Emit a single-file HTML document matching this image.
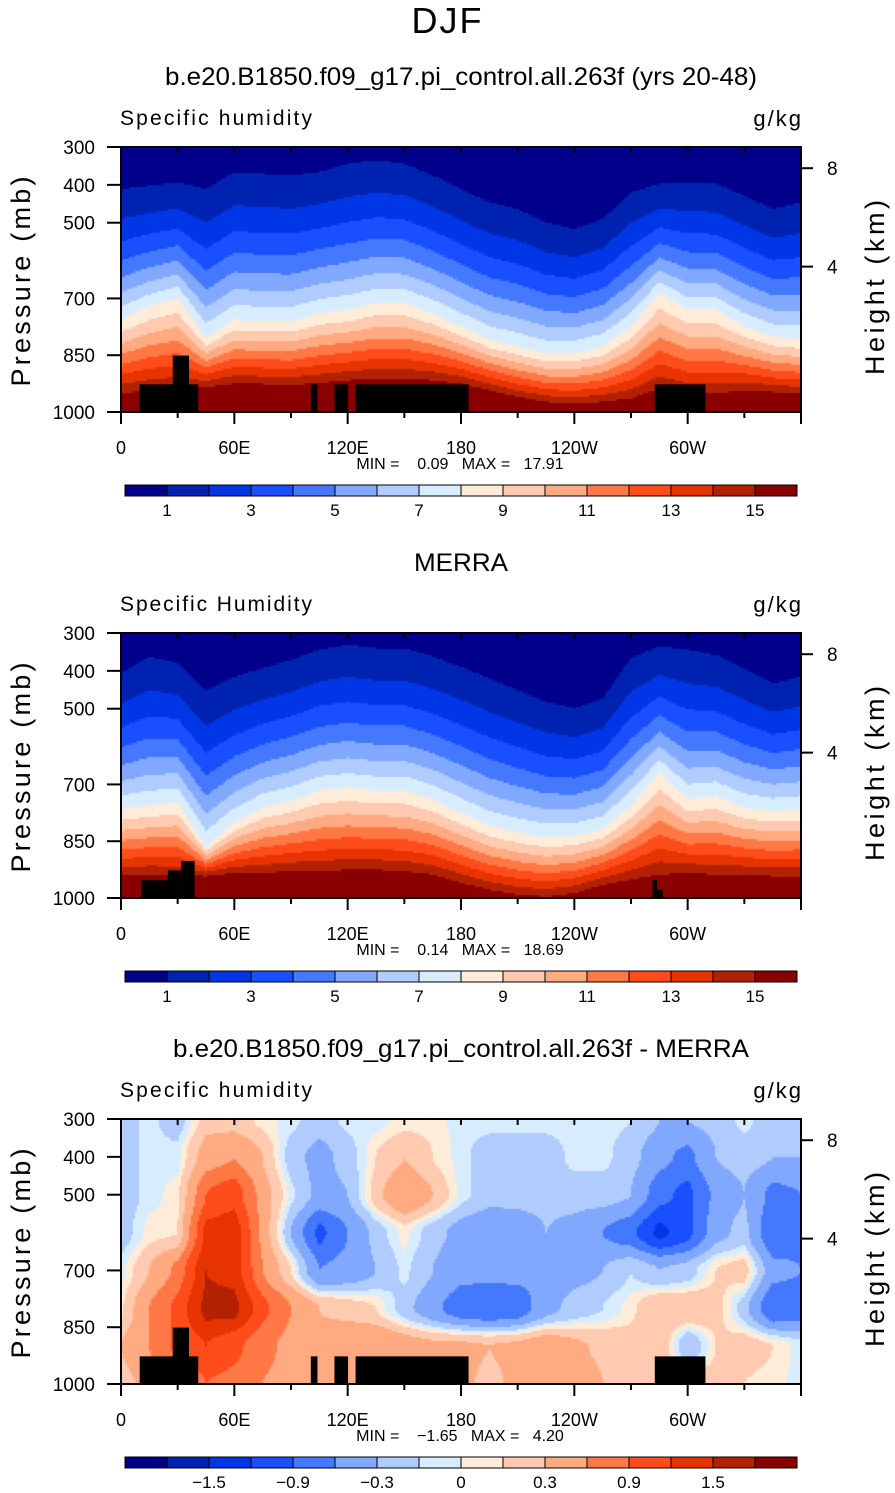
<!DOCTYPE html>
<html><head><meta charset="utf-8">
<style>
body{margin:0;background:#fff;width:895px;height:1493px;position:relative;overflow:hidden;font-family:"Liberation Sans",sans-serif;color:#000}
.t{position:absolute;white-space:nowrap}
canvas{position:absolute}
</style></head><body>
<div class="t" style="left:0;width:895px;text-align:center;top:0;font-size:36px;font-weight:300;letter-spacing:2px">DJF</div>
<svg id="svg" width="895" height="1493" style="position:absolute;left:0;top:0"></svg>
<script>
// ---------- data ----------
const lons = [0,15,30,45,60,75,90,105,120,135,150,165,180,195,210,225,240,255,270,285,300,315,330,345,360];
const levels = [1,2,3,4,5,6,7,8,9,10,11,12,13,14,15];
const levelLabels = ["1","","3","","5","","7","","9","","11","","13","","15"];
const diffLevels = [-1.8,-1.5,-1.2,-0.9,-0.6,-0.3,-0.1,0,0.1,0.3,0.6,0.9,1.2,1.5,1.8];
const diffLabels = ["","-1.5","","-0.9","","-0.3","","0","","0.3","","0.9","","1.5",""];
// model: pressure (mb) of the q=1, q=8, q=15 g/kg isolines
const m_p1  = [411,402,393,411,366,371,375,366,344,335,344,375,411,446,464,499,517,490,420,397,393,397,428,464,446];
const m_p8  = [756,721,699,805,756,761,761,739,730,712,712,739,774,809,827,845,845,827,774,685,730,730,774,801,809];
const m_p15 = [951,942,938,934,925,926,929,923,916,911,911,916,925,942,960,973,978,973,964,938,951,951,942,947,951];
// MERRA
const r_p1  = [406,362,380,451,415,393,371,344,331,340,340,362,389,420,451,482,499,473,366,335,344,358,393,433,415];
const r_p8  = [765,756,747,863,801,761,743,716,708,716,716,739,774,809,827,840,836,818,756,668,739,730,761,770,765];
const r_p15 = [942,938,941,942,934,934,929,929,925,925,929,938,960,978,991,996,987,965,951,938,934,938,938,942,942];
// difference field rows at pressures
const diffP = [300,400,500,600,700,800,900,1000];
const d300 = [-0.2,-0.05,-0.2,0.2,0.2,0.05,-0.05,-0.2,-0.05,-0.05,0.05,0.05,-0.05,-0.05,-0.05,-0.05,-0.05,-0.05,-0.1,-0.3,-0.3,-0.2,-0.05,-0.2,-0.3];
const d400 = [-0.2,-0.05,-0.05,0.45,0.6,0.3,-0.2,-0.4,-0.2,0.1,0.3,0.1,-0.05,-0.2,-0.2,-0.2,-0.05,-0.05,-0.2,-0.5,-0.7,-0.3,-0.2,-0.3,-0.3];
const d500 = [-0.2,-0.05,0.05,0.9,1.1,0.45,-0.05,-0.4,-0.3,0.2,0.6,0.3,-0.05,-0.2,-0.2,-0.2,-0.2,-0.2,-0.3,-0.8,-1.0,-0.5,-0.3,-0.7,-0.6];
const d600 = [-0.2,0.05,0.1,1.3,1.4,0.5,-0.3,-1.0,-0.6,-0.2,0.05,-0.2,-0.4,-0.6,-0.5,-0.3,-0.4,-0.6,-0.8,-1.3,-1.0,-0.4,-0.2,-0.9,-0.7];
const d700 = [-0.05,0.3,0.7,1.5,1.4,0.6,0.1,-0.6,-0.5,-0.3,-0.05,-0.3,-0.5,-0.5,-0.5,-0.6,-0.4,-0.3,-0.1,-0.3,-0.2,0.1,0.2,-0.5,-0.6];
const d800 = [0.05,0.6,1.0,1.6,1.6,1.0,0.6,0.3,0.2,0.1,-0.2,-0.5,-0.8,-0.9,-0.8,-0.4,-0.2,-0.1,0.05,0.3,0.3,0.2,-0.2,-0.9,-0.8];
const d900 = [0.3,0.6,1.0,1.2,1.0,0.7,0.5,0.4,0.6,0.6,0.45,0.35,0.35,0.3,0.35,0.5,0.35,0.25,0.2,0.3,-0.3,0.1,0.2,0.1,-0.05];
const d1000= [0.2,0.4,0.6,0.9,0.8,0.6,0.5,0.5,0.6,0.5,0.45,0.35,0.35,0.25,0.35,0.6,0.45,0.3,0.2,0.3,0.2,0.2,0.1,0.05,-0.05];
// orography blocks [lon0, lon1, top pressure]
const oroModel = [[9.9,40.9,927],[27.4,36,851],[100.5,104,927],[113,120.2,927],[124.2,184,927],[282.6,309.4,927]];
const oroMerra = [[10.6,24.8,953],[24.8,31.9,927],[31.9,39,902],[281.4,283.8,953],[283.8,286.8,978]];
const xLabels = ["0","60E","120E","180","120W","60W"];
const xLabelLons = [0,60,120,180,240,300];
const pTicks = [300,400,500,700,850,1000];
const hTicks = [[8,356],[4,616]];
// ---------- style ----------
const colors = ["#00008a","#0022b0","#0036e6","#1a4fff","#4479ff","#80a8ff","#b0ccff","#d8ecff","#ffecd8","#ffcab0","#ffaa80","#ff7846","#ff4c1a","#e63300","#b32200","#8a0000"];
const X0=121, X1=801;
const panels = [
 {top:147, title:"b.e20.B1850.f09_g17.pi_control.all.263f (yrs 20-48)", sub:"Specific humidity", kind:"m", min:"0.09", max:"17.91", cb:485},
 {top:633, title:"MERRA", sub:"Specific Humidity", kind:"r", min:"0.14", max:"18.69", cb:971},
 {top:1119, title:"b.e20.B1850.f09_g17.pi_control.all.263f - MERRA", sub:"Specific humidity", kind:"d", min:"\u22121.65", max:"4.20", cb:1457}
];
const H=265;
function xOf(lon){return X0+lon/360*(X1-X0);}
function yOf(p,top){return top+(p-300)/700*H;}
function interpLon(arr,lon){const i=Math.min(Math.floor(lon/15),23);const f=(lon-lons[i])/15;return arr[i]*(1-f)+arr[i+1]*f;}
function qField(p1,p8,p15,lon,p){
  const a=interpLon(p1,lon),b=interpLon(p8,lon),c=interpLon(p15,lon);
  const s8=Math.sqrt(8),s15=Math.sqrt(15);
  let s = p<=b ? 1+(p-a)/(b-a)*(s8-1) : s8+(p-b)/(c-b)*(s15-s8);
  if(s<0)s=0; return s*s;
}
const dRows=[d300,d400,d500,d600,d700,d800,d900,d1000];
function dField(lon,p){
  let j=Math.min(Math.floor((p-300)/100),6); const g=(p-diffP[j])/100;
  const sm=t=>t*t*(3-2*t);
  const a=interpLon(dRows[j],lon), b=interpLon(dRows[j+1],lon);
  return a*(1-sm(g))+b*sm(g);
}
function levelIndex(v,bounds){let k=0;for(const b of bounds){if(v>=b)k++;}return k;}
const svg=document.getElementById('svg');
const NS="http://www.w3.org/2000/svg";
function el(tag,attrs,parent){const e=document.createElementNS(NS,tag);for(const k in attrs)e.setAttribute(k,attrs[k]);(parent||svg).appendChild(e);return e;}
function txt(x,y,s,size,anchor,parent,extra){const e=el('text',Object.assign({x:x,y:y,'font-size':size,'text-anchor':anchor||'start','font-family':'Liberation Sans, sans-serif'},extra||{}),parent);e.textContent=s;return e;}

panels.forEach((P,pi)=>{
  const g=el('g',{});
  
  
  const cv=document.createElement('canvas');
  cv.width=X1-X0; cv.height=H;
  cv.style.left=X0+'px'; cv.style.top=P.top+'px';
  
  
  document.body.insertBefore(cv,svg);
  const ctx=cv.getContext('2d');
  const step=2;
  for(let px=0;px<cv.width;px+=step){
    const lon=(px+step/2)/cv.width*360;
    for(let py=0;py<H;py+=step){
      const p=300+(py+step/2)/H*700;
      let k;
      if(P.kind==="d"){k=levelIndex(dField(lon,p),diffLevels);}
      else if(P.kind==="m"){k=levelIndex(qField(m_p1,m_p8,m_p15,lon,p),levels);}
      else {k=levelIndex(qField(r_p1,r_p8,r_p15,lon,p),levels);}
      ctx.fillStyle=colors[k]; ctx.fillRect(px,py,step,step);
    }
  }
  const oro = P.kind==="r"?oroMerra:oroModel;
  oro.forEach(o=>{
    const r=el('rect',{x:xOf(o[0]),y:yOf(o[2],P.top),width:xOf(o[1])-xOf(o[0]),height:yOf(1000,P.top)-yOf(o[2],P.top),fill:'#000'},g);
    
    
  });
  const fr=el('rect',{x:X0,y:P.top,width:X1-X0,height:H,fill:'none',stroke:'#000','stroke-width':2},g);
  
  
  const t=txt(461,P.top-62,P.title,25,'middle',g,{textLength:P.kind==="r"?94:(P.kind==="m"?592:576),lengthAdjust:'spacingAndGlyphs'});
  
  
  const s=txt(120,P.top-22,P.sub,21,'start',g,{textLength:192,lengthAdjust:'spacing'});
  
  
  const u=txt(803,P.top-21,"g/kg",22,'end',g,{'letter-spacing':'2'});
  
  
  pTicks.forEach(p=>{
    const y=yOf(p,P.top);
    el('line',{x1:X0-14,x2:X0,y1:y,y2:y,stroke:'#000','stroke-width':2},g);
    const l=txt(95,y+7,String(p),19,'end',g);
    
    
  });
  hTicks.forEach(h=>{
    const y=yOf(h[1],P.top);
    el('line',{x1:X1,x2:X1+12,y1:y,y2:y,stroke:'#000','stroke-width':2},g);
    const l=txt(827,y+7,String(h[0]),19,'start',g);
    
    
  });
  for(let lon=0;lon<=360;lon+=30){
    const x=xOf(lon);
    el('line',{x1:x,x2:x,y1:P.top,y2:P.top+6,stroke:'#000','stroke-width':2},g);
    el('line',{x1:x,x2:x,y1:P.top+H,y2:P.top+H+(lon%60===0?12:6),stroke:'#000','stroke-width':2},g);
  }
  xLabels.forEach((s2,i)=>{
    const l=txt(xOf(xLabelLons[i]),P.top+H+42,s2,18,'middle',g);
    
    
  });
  const mm=txt(460,P.top+H+57,"MIN =    "+P.min+"   MAX =   "+P.max,16,'middle',g,{style:'white-space:pre'});
  
  
  const ya=txt(0,0,"Pressure (mb)",27,'middle',g,{transform:`translate(30,${P.top+H/2+2}) rotate(-90)`,textLength:210,lengthAdjust:'spacing'});
  
  
  const ya2=txt(0,0,"Height (km)",27,'middle',g,{transform:`translate(884,${P.top+H/2+8}) rotate(-90)`,textLength:175,lengthAdjust:'spacing'});
  
  
  const cb=el('g',{},g);
  
  
  const w=42;
  colors.forEach((c,i)=>{
    const r=el('rect',{x:125+i*w,y:P.cb,width:w,height:11,fill:c,stroke:'#000','stroke-width':1},cb);
    
    
  });
  const labs = P.kind==="d"?diffLabels:levelLabels;
  labs.forEach((s3,i)=>{
    if(!s3)return;
    const l=txt(125+(i+1)*w,P.cb+31,s3.replace('-','\u2212'),17,'middle',cb);
    
    
  });
});
</script>
</body></html>
